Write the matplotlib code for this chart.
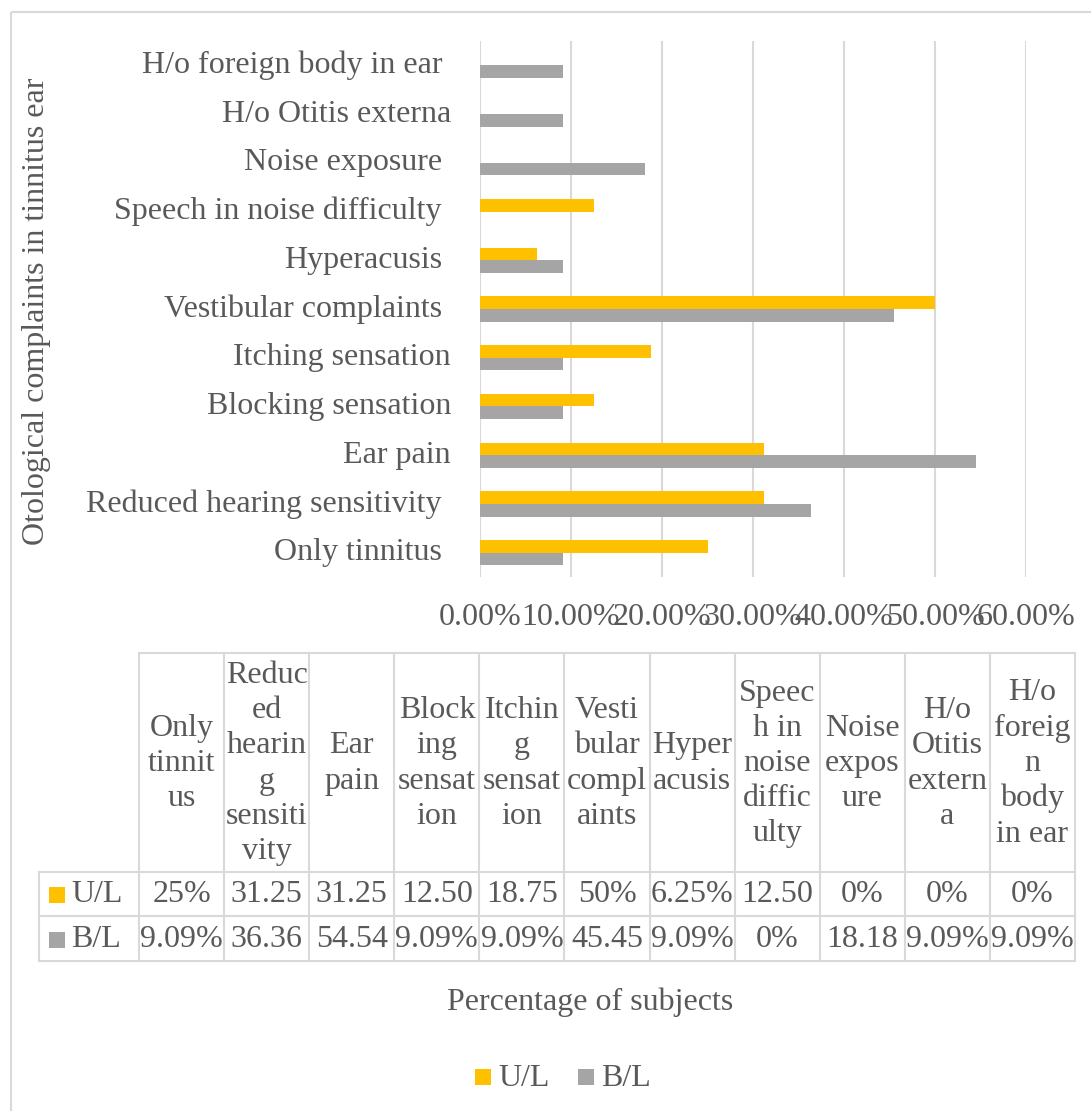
import matplotlib
matplotlib.use("Agg")
import matplotlib.pyplot as plt
from matplotlib.patches import Rectangle
from matplotlib.ticker import FuncFormatter
from matplotlib.transforms import blended_transform_factory

# ---- data -------------------------------------------------------------
categories = [
    "Only tinnitus", "Reduced hearing sensitivity", "Ear pain",
    "Blocking sensation", "Itching sensation", "Vestibular complaints",
    "Hyperacusis", "Speech in noise difficulty", "Noise exposure",
    "H/o Otitis externa", "H/o foreign body in ear",
]
# categories whose axis label carries a trailing blank in the workbook
trailing_blank = [True, True, False, False, False, True, True, True, True, False, True]
# wrapped column headers of the data table
table_headers = [
    "Only\ntinnit\nus", "Reduc\ned\nhearin\ng\nsensiti\nvity", "Ear\npain",
    "Block\ning\nsensat\nion", "Itchin\ng\nsensat\nion", "Vesti\nbular\ncompl\naints",
    "Hyper\nacusis", "Speec\nh in\nnoise\ndiffic\nulty", "Noise\nexpos\nure",
    "H/o\nOtitis\nextern\na", "H/o\nforeig\nn\nbody\nin ear",
]
series_names = ["U/L", "B/L"]
ul_values = [25, 31.25, 31.25, 12.50, 18.75, 50, 6.25, 12.50, 0, 0, 0]
bl_values = [9.09, 36.36, 54.54, 9.09, 9.09, 45.45, 9.09, 0, 18.18, 9.09, 9.09]
x_ticks = [0, 10, 20, 30, 40, 50, 60]

# ---- style ------------------------------------------------------------
W, H = 1091, 1111
FONT = "Liberation Serif"
TXT = "#595959"
LINE = "#D9D9D9"
COLORS = ["#FFC000", "#A5A5A5"]
FS = 23

plt.rcParams["font.family"] = [FONT, "DejaVu Serif"]

fig = plt.figure(figsize=(W / 100, H / 100), dpi=100)

# overlay in pixel coordinates for the frame, table and legend
over = fig.add_axes([0, 0, 1, 1], zorder=0)
over.set_xlim(0, W)
over.set_ylim(H, 0)
over.axis("off")
over.add_patch(Rectangle((10.5, 11.5), 1300, 1300, fill=False, ec=LINE, lw=1.5))

# ---- bar chart ----------------------------------------------------------
ax_l, ax_r, ax_t, ax_b = 480, 1026, 41, 577
ax = fig.add_axes([ax_l / W, 1 - ax_b / H, (ax_r - ax_l) / W, (ax_b - ax_t) / H], zorder=1)
ax.patch.set_alpha(0)

ypos = list(range(len(categories)))
bh = 0.26
ax.barh([y + bh / 2 for y in ypos], ul_values, height=bh, color=COLORS[0], zorder=3)
ax.barh([y - bh / 2 for y in ypos], bl_values, height=bh, color=COLORS[1], zorder=3)

ax.set_xlim(x_ticks[0], x_ticks[-1])
ax.set_ylim(-0.5, len(categories) - 0.5)
ax.set_xticks(x_ticks)
ax.xaxis.set_major_formatter(FuncFormatter(lambda v, p: f"{v:.2f}%"))
ax.tick_params(axis="x", length=0, pad=19, labelsize=FS, labelcolor=TXT)
ax.set_yticks([])
ax.grid(axis="x", color=LINE, lw=1.5, zorder=0)
for s in ax.spines.values():
    s.set_visible(False)

# category labels, right-aligned against the plot area
ytrans = blended_transform_factory(over.transData, ax.transData)
for y, name, tb in zip(ypos, categories, trailing_blank):
    ax.text(442 + (0 if tb else 9), y, name, transform=ytrans, ha="right",
            va="center", fontsize=FS, color=TXT)

over.text(37, (ax_t + ax_b) / 2 + 2, "Otological complaints in tinnitus ear",
          rotation=90, ha="center", va="center", fontsize=FS, color=TXT)

# ---- data table ---------------------------------------------------------
t_left, c_left, t_right = 39, 139, 1075
h_top, h_bot, r1_bot, r2_bot = 653, 872, 916, 961
ncol = len(categories)
cw = (t_right - c_left) / ncol
col_edges = [c_left + i * cw for i in range(ncol + 1)]

lk = dict(color=LINE, lw=1.5, zorder=1)
over.plot([c_left, t_right], [h_top, h_top], **lk)
for yy in (h_bot, r1_bot, r2_bot):
    over.plot([t_left, t_right], [yy, yy], **lk)
for xx in col_edges:
    over.plot([xx, xx], [h_top, r2_bot], **lk)
over.plot([t_left, t_left], [h_bot, r2_bot], **lk)

for i, head in enumerate(table_headers):
    over.text(col_edges[i] + cw / 2, (h_top + h_bot) / 2 + 1, head, ha="center",
              va="center", fontsize=FS, color=TXT, linespacing=1.28)


def cell_text(v):
    return f"{v:.0f}%" if float(v).is_integer() else f"{v:.2f}%"


fig.canvas.draw()
renderer = fig.canvas.get_renderer()
row_y = [(h_bot + r1_bot) / 2, (r1_bot + r2_bot) / 2]
for r, (name, vals) in enumerate(zip(series_names, [ul_values, bl_values])):
    yc = row_y[r] + 1
    over.add_patch(Rectangle((49, yc - 8), 16, 16, color=COLORS[r], lw=0))
    over.text(71, yc, name, ha="left", va="center", fontsize=FS, color=TXT)
    for i, v in enumerate(vals):
        s = cell_text(v)
        t = over.text(col_edges[i] + cw / 2, yc, s, ha="center", va="center",
                      fontsize=FS, color=TXT)
        # characters that do not fit in the cell are dropped
        while t.get_window_extent(renderer).width > cw - 2 and len(s) > 1:
            s = s[:-1]
            t.set_text(s)

# ---- axis title and legend ----------------------------------------------
over.text(590, 1002, "Percentage of subjects", ha="center", va="center",
          fontsize=FS, color=TXT)
leg_x = [475, 578]
for name, col, lx in zip(series_names, COLORS, leg_x):
    over.add_patch(Rectangle((lx, 1069), 16, 16, color=col, lw=0))
    over.text(lx + 23, 1078, name, ha="left", va="center", fontsize=FS, color=TXT)

fig.savefig("out.png", dpi=100)
